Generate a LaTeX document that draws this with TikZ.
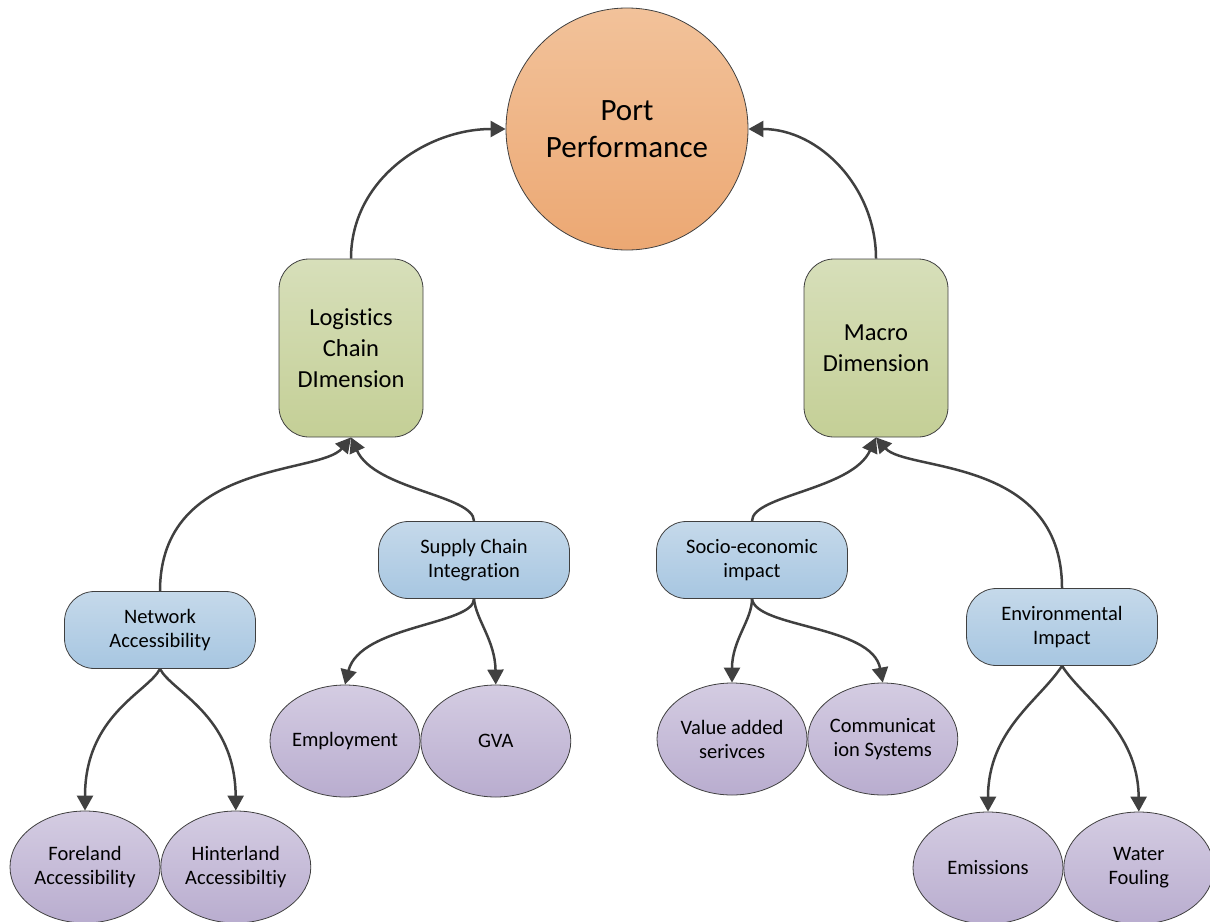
\documentclass[tikz,border=0pt]{standalone}
\usepackage{fontspec}
\setmainfont{Carlito}[Ligatures=NoCommon]
\usetikzlibrary{shapes.geometric, arrows.meta, positioning}

\definecolor{edgegray}{RGB}{64,64,64}
\definecolor{portTop}{RGB}{242,194,154}
\definecolor{portBot}{RGB}{236,168,115}
\definecolor{dimTop}{RGB}{215,223,186}
\definecolor{dimBot}{RGB}{196,207,150}
\definecolor{facTop}{RGB}{197,217,234}
\definecolor{facBot}{RGB}{167,198,225}
\definecolor{metTop}{RGB}{212,204,226}
\definecolor{metBot}{RGB}{185,173,207}

\begin{document}
\begin{tikzpicture}[
    x=1pt, y=-1pt,
    goal/.style={
        circle, draw=edgegray, line width=0.8pt,
        minimum size=242pt, inner sep=0pt, align=center,
        top color=portTop, bottom color=portBot,
        font=\fontsize{31}{37}\selectfont},
    dim/.style={
        rectangle, rounded corners=30pt,
        draw=edgegray, line width=0.8pt,
        minimum width=144pt, minimum height=178pt, align=center,
        top color=dimTop, bottom color=dimBot,
        font=\fontsize{24.5}{31}\selectfont},
    factor/.style={
        rectangle, rounded corners=30pt,
        draw=edgegray, line width=0.8pt,
        minimum width=191pt, minimum height=77pt, align=center,
        top color=facTop, bottom color=facBot,
        font=\fontsize{20.5}{24}\selectfont},
    metric/.style={
        ellipse, draw=edgegray, line width=0.8pt,
        minimum width=150pt, minimum height=112pt,
        inner sep=0pt, align=center,
        top color=metTop, bottom color=metBot,
        font=\fontsize{20.5}{24}\selectfont},
    arr/.style={-{Triangle[length=15pt,width=16pt]}, line width=2.5pt, color=edgegray}]

\useasboundingbox (0,0) rectangle (1210,921);

\node[goal]   (port)   at (627,129)  {Port\\Performance};
\node[dim]    (logist) at (351,348)  {Logistics\\Chain\\DImension};
\node[dim]    (macro)  at (876,348)  {Macro\\Dimension};

\node[factor] (netacc) at (160,630)  {Network\\Accessibility};
\node[factor] (supply) at (474,560)  {Supply Chain\\Integration};
\node[factor] (socio)  at (752,560)  {Socio-economic\\impact};
\node[factor] (envir)  at (1062,627) {Environmental\\Impact};

\node[metric]                     (fore)   at (85,867)  {Foreland\\Accessibility};
\node[metric, right=0pt of fore]   (hinter)             {Hinterland\\Accessibiltiy};
\node[metric]                     (employ) at (345,741) {Employment};
\node[metric, right=0pt of employ] (gva)                {GVA};
\node[metric]                     (valadd) at (732,739) {Value added\\serivces};
\node[metric, right=0pt of valadd] (comm)               {Communicat\\ion Systems};
\node[metric]                     (emiss)  at (988,868) {Emissions};
\node[metric, right=0pt of emiss]  (water)              {Water\\Fouling};

% Dimensions into port performance
\draw[arr] (logist.north) to[out=90,in=180] (port.west);
\draw[arr] (macro.north)  to[out=90,in=0]   (port.east);

% Factors into dimensions
\draw[arr] (netacc.north) .. controls (160,460)  and (320,475) .. (logist.south);
\draw[arr] (supply.north) .. controls (474,495)  and (375,490) .. (logist.south);
\draw[arr] (socio.north)  .. controls (752,495)  and (852,490) .. (macro.south);
\draw[arr] (envir.north)  .. controls (1062,456) and (906,472) .. (macro.south);

% Factors out to indicators
\draw[arr] (netacc.south) .. controls (148,692)  and (85,715)  .. (fore.north);
\draw[arr] (netacc.south) .. controls (172,692)  and (235,715) .. (hinter.north);
\draw[arr] (supply.south) .. controls (474,625)  and (360,625) .. (employ.north);
\draw[arr] (supply.south) .. controls (476,620)  and (495,640) .. (gva.north);
\draw[arr] (socio.south)  .. controls (752,620)  and (732,640) .. (valadd.north);
\draw[arr] (socio.south)  .. controls (756,628)  and (872,625) .. (comm.north);
\draw[arr] (envir.south)  .. controls (1040,700) and (988,730) .. (emiss.north);
\draw[arr] (envir.south)  .. controls (1084,700) and (1138,730) .. (water.north);

\end{tikzpicture}
\end{document}
